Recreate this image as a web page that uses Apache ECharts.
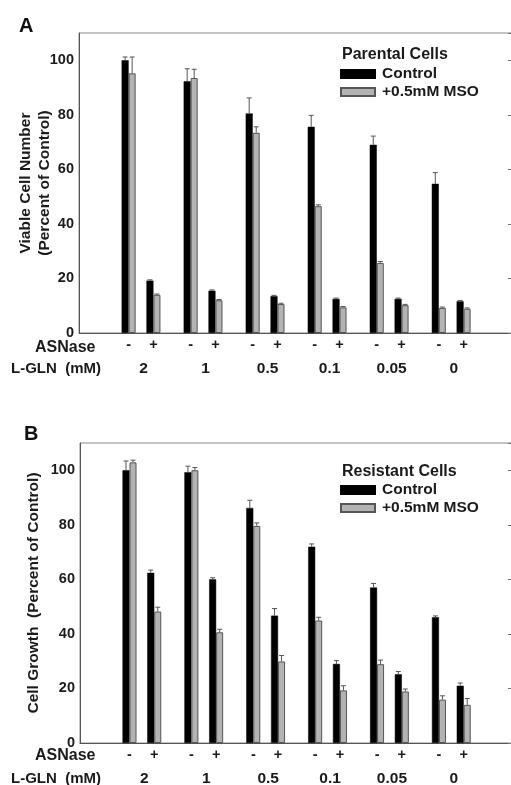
<!DOCTYPE html>
<html>
<head>
<meta charset="utf-8">
<script src="https://cdn.jsdelivr.net/npm/echarts@6/dist/echarts.min.js"></script>
<style>
  html, body { margin: 0; padding: 0; background: #fff; }
  #chart { width: 511px; height: 785px; }
</style>
</head>
<body>
<div id="chart"></div>
<script>
// L-GLN levels, ASNase -/+ within each level
const levels = ['2', '1', '0.5', '0.1', '0.05', '0']
const asnase = ['-', '+']

// Panel A: parental cells (order: 2-, 2+, 1-, 1+, ...)
const parentalControl = [100, 19.2, 92.3, 15.5, 80.5, 13.5, 75.6, 12.5, 69.0, 12.5, 54.7, 11.6]
const parentalControlErr = [1.2, 0.3, 4.6, 0.3, 5.7, 0.3, 4.2, 0.3, 3.2, 0.3, 4.1, 0.3]
const parentalMso = [95.2, 14.0, 93.5, 12.0, 73.4, 10.6, 46.5, 9.4, 25.7, 10.2, 9.2, 8.9]
const parentalMsoErr = [6.0, 0.3, 3.2, 0.3, 2.2, 0.3, 0.5, 0.3, 0.5, 0.3, 0.3, 0.3]

// Panel B: resistant cells
const resistantControl = [100, 62.4, 99.3, 60.0, 86.2, 46.7, 72.0, 29.0, 57.0, 25.2, 46.1, 21.0]
const resistantControlErr = [3.4, 1.0, 2.2, 0.6, 2.8, 2.6, 1.0, 1.2, 1.5, 1.0, 0.5, 1.0]
const resistantMso = [102.9, 48.2, 100, 40.6, 79.6, 29.9, 44.9, 19.3, 28.9, 18.9, 15.9, 14.0]
const resistantMsoErr = [0.8, 1.6, 1.0, 1.1, 1.1, 2.2, 1.2, 1.7, 1.5, 0.9, 1.4, 2.3]

const FONT = 'Liberation Sans, Arial, sans-serif'
const BAR_W = 7

// x slot of each bar: 5 slots per level, '+' two slots after '-'
const xOf = i => 5 * Math.floor(i / 2) + 2 * (i % 2)
const signSlots = levels.flatMap((l, g) => asnase.map((s, k) => 5 * g + 2 * k))
const levelSlots = levels.map((l, g) => 5 * g + 1.2)

const toBars = arr => arr.map((v, i) => [xOf(i), v])
const toErr = (arr, err) => arr.map((v, i) => [xOf(i), v, err[i]])

function errorRenderer(shift) {
  return function (params, api) {
    const x = api.value(0)
    const top = api.coord([x, api.value(1) + api.value(2)])
    const base = api.coord([x, api.value(1)])
    const cx = top[0] + shift
    const style = { stroke: '#555', lineWidth: 1 }
    return {
      type: 'group',
      children: [
        { type: 'line', shape: { x1: cx, y1: base[1], x2: cx, y2: top[1] }, style },
        { type: 'line', shape: { x1: cx - 2.5, y1: top[1], x2: cx + 2.5, y2: top[1] }, style }
      ]
    }
  }
}

const grids = [
  { left: 79, top: 33, width: 433, height: 300 },
  { left: 80, top: 443, width: 432, height: 300 }
]

const panels = [
  { ctrl: parentalControl, ctrlErr: parentalControlErr, mso: parentalMso, msoErr: parentalMsoErr,
    yName: 'Viable Cell Number\n(Percent of Control)', yGap: 25, legendTop: 66, headTop: 47, head: 'Parental Cells' },
  { ctrl: resistantControl, ctrlErr: resistantControlErr, mso: resistantMso, msoErr: resistantMsoErr,
    yName: 'Cell Growth  (Percent of Control)', yGap: 37, legendTop: 482, headTop: 464, head: 'Resistant Cells' }
]

const labelFont = { fontFamily: FONT, fontWeight: 'bold', fontSize: 14.5, color: '#1a1a1a' }

const xAxis = []
const yAxis = []
const series = []
const legend = []
const title = []

panels.forEach((p, gi) => {
  // bar axis with -/+ labels
  xAxis.push({
    type: 'value', gridIndex: gi, min: -4, max: 30.9,
    axisLine: { show: true, onZero: false, lineStyle: { color: '#555', width: 1 } },
    axisTick: { show: false },
    splitLine: { show: false },
    axisLabel: Object.assign({
      customValues: signSlots,
      margin: 4,
      formatter: v => asnase[((v % 5) === 0) ? 0 : 1]
    }, labelFont)
  })
  // L-GLN level labels row
  xAxis.push({
    type: 'value', gridIndex: gi, min: -4, max: 30.9, position: 'bottom', offset: 25,
    axisLine: { show: false, onZero: false }, axisTick: { show: false }, splitLine: { show: false },
    axisLabel: Object.assign({
      customValues: levelSlots,
      margin: 3,
      formatter: v => levels[Math.round((v - 1) / 5)]
    }, labelFont, { fontSize: 15.5 })
  })
  yAxis.push({
    type: 'value', gridIndex: gi, min: 0, max: 110, interval: 20,
    name: p.yName, nameLocation: 'middle', nameRotate: 90, nameGap: p.yGap, nameMoveOverlap: false,
    nameTextStyle: { fontFamily: FONT, fontWeight: 'bold', fontSize: 15.5, color: '#1a1a1a', lineHeight: 19 },
    axisLine: { show: true, onZero: false, lineStyle: { color: '#555' } },
    axisTick: { show: false },
    splitLine: { show: false },
    axisLabel: Object.assign({ margin: 5, showMaxLabel: false }, labelFont)
  })
  yAxis.push({
    type: 'value', gridIndex: gi, min: 0, max: 110, interval: 20, position: 'right',
    axisLine: { show: true, onZero: false, lineStyle: { color: '#777' } },
    axisTick: { show: true, inside: true, length: 4, lineStyle: { color: '#777' } },
    axisLabel: { show: false },
    splitLine: { show: false }
  })

  const xi = gi * 2
  const yi = gi * 2
  series.push({
    name: 'Control', type: 'bar', xAxisIndex: xi, yAxisIndex: yi,
    barWidth: BAR_W, barGap: '0%',
    itemStyle: { color: '#000', borderColor: '#000', borderWidth: 0.5 },
    data: toBars(p.ctrl)
  })
  series.push({
    name: '+0.5mM MSO', type: 'bar', xAxisIndex: xi, yAxisIndex: yi,
    barWidth: BAR_W, barGap: '0%',
    itemStyle: { color: '#b3b3b3', borderColor: '#555', borderWidth: 1 },
    data: toBars(p.mso)
  })
  series.push({
    type: 'custom', xAxisIndex: xi, yAxisIndex: yi, z: 3,
    renderItem: errorRenderer(-BAR_W / 2),
    encode: { x: 0, y: 1 },
    data: toErr(p.ctrl, p.ctrlErr)
  })
  series.push({
    type: 'custom', xAxisIndex: xi, yAxisIndex: yi, z: 3,
    renderItem: errorRenderer(BAR_W / 2),
    encode: { x: 0, y: 1 },
    data: toErr(p.mso, p.msoErr)
  })

  legend.push({
    orient: 'vertical', left: 340, top: p.legendTop, padding: 0,
    itemWidth: 34, itemHeight: 8, itemGap: 2,
    icon: 'rect', selectedMode: false,
    data: ['Control', '+0.5mM MSO'],
    textStyle: { fontFamily: FONT, fontWeight: 'bold', fontSize: 15.5, color: '#1a1a1a', padding: [0, 0, 0, 2] }
  })
  title.push({
    text: p.head, left: 342, top: p.headTop, padding: 0,
    textStyle: { fontFamily: FONT, fontWeight: 'bold', fontSize: 16, color: '#1a1a1a' }
  })
})

title.push({ text: 'A', left: 19, top: 16, padding: 0,
  textStyle: { fontFamily: FONT, fontWeight: 'bold', fontSize: 20, color: '#111' } })
title.push({ text: 'B', left: 24, top: 424, padding: 0,
  textStyle: { fontFamily: FONT, fontWeight: 'bold', fontSize: 20, color: '#111' } })

const rowText = (text, x, y, size) => ({
  type: 'text', left: x, top: y,
  style: { text, font: 'bold ' + size + 'px ' + FONT, fill: '#1a1a1a' }
})

const chart = echarts.init(document.getElementById('chart'))
chart.setOption({
  backgroundColor: '#fff',
  animation: false,
  title,
  legend,
  grid: grids.map(g => Object.assign({ show: true, borderColor: '#888', borderWidth: 1, outerBoundsMode: 'none' }, g)),
  xAxis,
  yAxis,
  series,
  graphic: [
    rowText('ASNase', 35, 340, 16),
    rowText('L-GLN  (mM)', 11, 361, 15),
    rowText('ASNase', 35, 748, 16),
    rowText('L-GLN  (mM)', 11, 771, 15)
  ]
})
</script>
</body>
</html>
